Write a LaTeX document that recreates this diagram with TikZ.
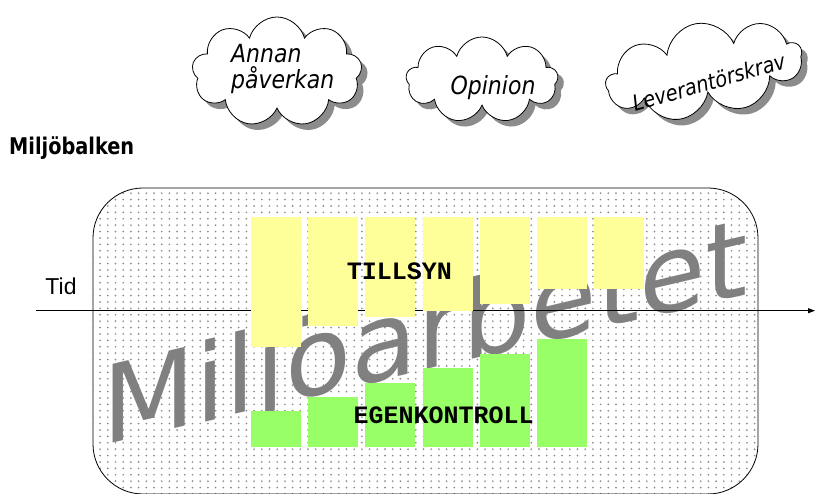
\documentclass[tikz,border=0pt]{standalone}
\usepackage{fontspec}
\setmainfont{DejaVu Sans}
\newfontfamily\arialfont{Liberation Sans}
\newfontfamily\courierfont{Liberation Mono}
\usetikzlibrary{arrows.meta, patterns, shapes.symbols, shadows}

\definecolor{tillsynyellow}{HTML}{FFFF99}
\definecolor{egengreen}{HTML}{99FF66}
\definecolor{wordgray}{HTML}{808080}
\definecolor{shadowgray}{HTML}{8C8C8C}
\definecolor{prickgray}{HTML}{8A8A8A}

% dot fill of the big box
\pgfdeclarepatternformonly{fleckar}{\pgfqpoint{-1pt}{-1pt}}{\pgfqpoint{1pt}{1pt}}{\pgfqpoint{7.7pt}{6.4pt}}{%
  \pgfpathcircle{\pgfqpoint{0pt}{0pt}}{0.95pt}\pgfusepath{fill}}

\tikzset{
  moln/.style={cloud, cloud puffs=9, cloud ignores aspect, draw, line width=0.8pt,
    fill=white, inner sep=0pt,
    drop shadow={shadow xshift=6pt, shadow yshift=-6pt, fill=shadowgray, opacity=1}},
  molntext/.style={font=\itshape\fontsize{25}{26}\selectfont, xscale=0.88,
    inner sep=0pt, align=left},
  stapeltext/.style={font=\courierfont\bfseries\fontsize{25}{25}\selectfont,
    inner sep=0pt, anchor=base},
}

\begin{document}
\begin{tikzpicture}[x=1pt, y=-1pt]
\useasboundingbox (0,0) rectangle (817,494);
% clouds
\node[moln, minimum width=170pt, minimum height=110pt] (annan) at (277,72) {};
\node[moln, minimum width=152pt, minimum height=86pt] (opinion) at (482,80) {};
\node[moln, rotate=10, minimum width=198pt, minimum height=94pt] (leverantor) at (704,70) {};
\node[molntext, anchor=base west] (annantext) at (231,89) {Annan\\påverkan};
\node[molntext, anchor=base] (opiniontext) at (493,95) {Opinion};
\node[rotate=16, molntext, anchor=base, font=\itshape\fontsize{22}{24}\selectfont]
  (leverantortext) at (711,90) {Leverantörskrav};

\node[anchor=base west, inner sep=0pt, xscale=0.84,
  font=\bfseries\fontsize{23}{23}\selectfont] (balken) at (9,155) {Miljöbalken};

% the big box
\draw[line width=0.8pt, rounded corners=50pt, pattern=fleckar, pattern color=prickgray]
  (93,188) rectangle (758,494);
\node[anchor=base west, inner sep=0pt, yslant=0.235, text=wordgray,
  font=\fontsize{108}{110}\selectfont] (miljoarbete) at (102,446) {Miljöarbetet};

% time axis
\coordinate (tidstart) at (36,310.7);
\coordinate (tidslut) at (815,310.7);
\draw[line width=0.8pt, -{Triangle[length=7pt, width=5pt]}] (tidstart) -- (tidslut);
\node[anchor=base, inner sep=0pt, font=\arialfont\fontsize{23}{23}\selectfont]
  (tid) at (61,295) {Tid};

% bars
\foreach \botten [count=\i from 0] in {347,326,317,311,304,289,289}
  \fill[tillsynyellow] (251+57.2*\i, 217) rectangle ++(50, \botten-217);
\foreach \topp [count=\i from 0] in {411,397,383,368,354,339}
  \fill[egengreen] (251+57.2*\i, \topp) rectangle ++(50, 447-\topp);
\node[stapeltext] (tillsyn) at (399.5,280) {TILLSYN};
\node[stapeltext] (egenkontroll) at (443.7,424) {EGENKONTROLL};
\end{tikzpicture}
\end{document}
